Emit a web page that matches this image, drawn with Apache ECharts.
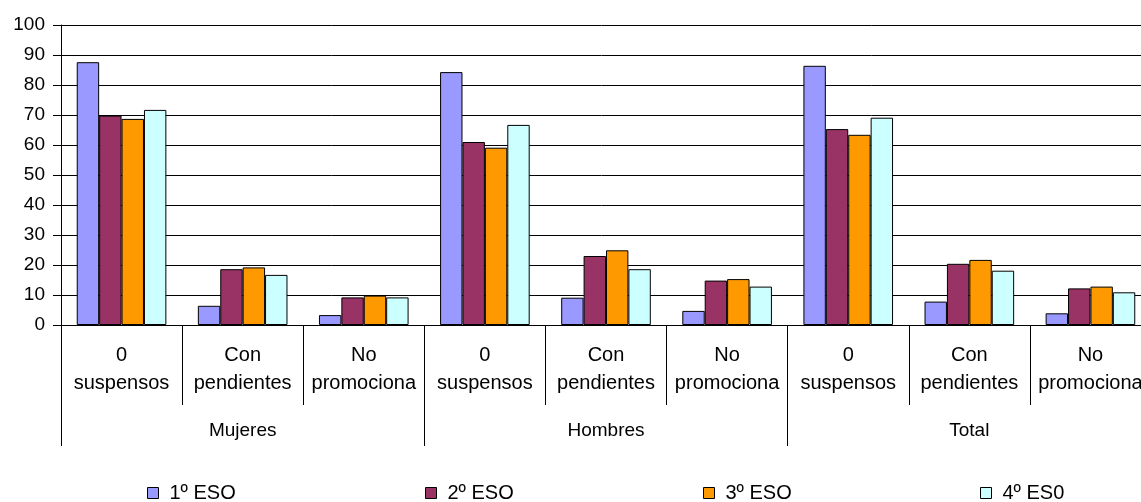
<!DOCTYPE html>
<html>
<head>
<meta charset="utf-8">
<script src="https://cdn.jsdelivr.net/npm/echarts@6/dist/echarts.min.js"></script>
<style>
html,body{margin:0;padding:0;background:#fff;}
#chart{width:1141px;height:502px;}
</style>
</head>
<body>
<div id="chart"></div>
<script>
var subCategories = ['0\nsuspensos','Con\npendientes','No\npromociona','0\nsuspensos','Con\npendientes','No\npromociona','0\nsuspensos','Con\npendientes','No\npromociona'];
var groupCategories = ['Mujeres','Hombres','Total'];
var seriesNames = ['1º ESO','2º ESO','3º ESO','4º ES0'];
var eso1 = [87.6, 6.4, 3.3, 84.3, 9.1, 4.7, 86.4, 7.8, 3.9];
var eso2 = [69.8, 18.6, 9.2, 61.0, 23.0, 14.8, 65.3, 20.4, 12.2];
var eso3 = [68.7, 19.2, 9.8, 59.1, 24.9, 15.3, 63.4, 21.7, 12.8];
var eso4 = [71.7, 16.7, 9.2, 66.7, 18.6, 12.8, 69.1, 18.1, 10.9];
var colors = ['#9999FF','#993366','#FF9900','#CCFFFF'];

var font = 'Liberation Sans, Arial, sans-serif';
var chart = echarts.init(document.getElementById('chart'), null, {renderer:'canvas'});
var allData = [eso1, eso2, eso3, eso4];
var legendLefts = [147, 425, 703, 980];

var option = {
  animation: false,
  backgroundColor: '#ffffff',
  textStyle: {fontFamily: font, color: '#000'},
  grid: {left: 61, top: 25, width: 1090, height: 300, containLabel: false, outerBoundsMode: 'none'},
  legend: seriesNames.map(function(n, i){
    return {
      data: [n], left: legendLefts[i], top: 483, padding: 0,
      itemWidth: 11, itemHeight: 11, itemGap: 0,
      icon: 'rect',
      itemStyle: {borderColor: '#000', borderWidth: 1},
      textStyle: {fontFamily: font, fontSize: 20, color: '#000', padding: [0,0,0,6]}
    };
  }),
  xAxis: [
    {
      type: 'category', data: subCategories, position: 'bottom',
      axisLine: {show: true, lineStyle: {color: '#000', width: 1}},
      axisTick: {show: true, interval: 0, length: 80, lineStyle: {color: '#000', width: 1}},
      axisLabel: {interval: 0, margin: 16, fontFamily: font, fontSize: 20, color: '#000', lineHeight: 28, align: 'center'},
      splitLine: {show: false}
    },
    {
      type: 'category', data: groupCategories, position: 'bottom', offset: 0,
      axisLine: {show: false},
      axisTick: {show: true, interval: 0, length: 121, lineStyle: {color: '#000', width: 1}},
      axisLabel: {interval: 0, margin: 96, fontFamily: font, fontSize: 19, color: '#000'},
      splitLine: {show: false}
    }
  ],
  yAxis: {
    type: 'value', min: 0, max: 100, interval: 10,
    axisLine: {show: true, lineStyle: {color: '#000', width: 1}},
    axisTick: {show: true, length: 8, lineStyle: {color: '#000'}},
    axisLabel: {margin: 16, fontFamily: font, fontSize: 19, color: '#000'},
    splitLine: {show: true, lineStyle: {color: '#000', width: 1}}
  },
  series: allData.map(function(d, i){
    return {
      name: seriesNames[i], type: 'bar', data: d, xAxisIndex: 0,
      barGap: '0%', barCategoryGap: '26%',
      itemStyle: {color: colors[i], borderColor: '#000', borderWidth: 1}
    };
  })
};
chart.setOption(option);
</script>
</body>
</html>
